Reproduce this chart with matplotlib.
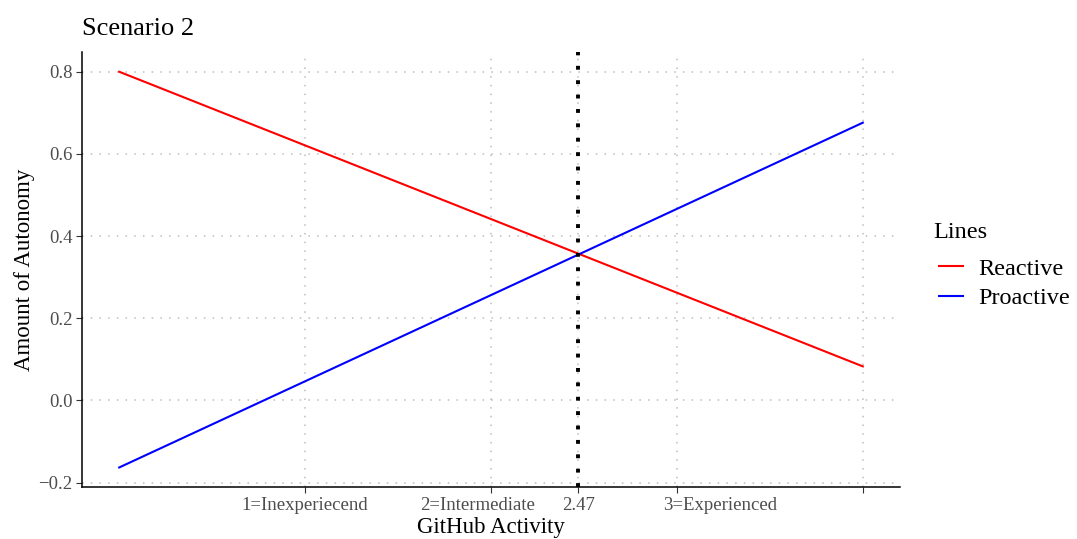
import numpy as np
import matplotlib
matplotlib.use("Agg")
import matplotlib.pyplot as plt
import matplotlib.transforms as mtransforms

# data
x_ends = [0, 4]
reactive = [0.800, 0.083]
proactive = [-0.163, 0.676]
cross_x = 2.47
tick_pos = [1, 2, 2.47, 3, 4]
tick_lab = ["1=Inexperiecend", "2=Intermediate", "2.47", "3=Experienced", ""]
y_ticks = [-0.2, 0.0, 0.2, 0.4, 0.6, 0.8]

plt.rcParams['font.family'] = ['Liberation Serif', 'DejaVu Serif']

W, H = 1077, 539
fig = plt.figure(figsize=(W / 100, H / 100), dpi=100)
ax = fig.add_axes([82/W, 52/H, (900-82)/W, (487-52)/H])

ax.set_xlim(-0.2, 4.2)
ax.set_ylim(-0.2105, 0.848)

# grid
for yv in y_ticks:
    ax.axhline(yv, color='#bdbdbd', lw=1.1, ls=(0, (1, 4.7)), zorder=0)
for xv in tick_pos:
    ax.axvline(xv, color='#bdbdbd', lw=1.1, ls=(0, (1, 4.7)), zorder=0)

ax.plot(x_ends, reactive, color='red', lw=1.5, label='Reactive')
ax.plot(x_ends, proactive, color='blue', lw=1.5, label='Proactive')
ax.axvline(cross_x, color='black', lw=2.8, ls=(0, (1, 2.7)), zorder=3)

ax.set_xticks(tick_pos)
ax.set_xticklabels(tick_lab)
ax.set_yticks(y_ticks)
ax.set_yticklabels([f"{v:.1f}".replace('-', '\u2212') for v in y_ticks])
ax.tick_params(colors='#4d4d4d', labelsize=13.5, length=4, width=0.8, pad=3)
ax.tick_params(axis='both', color='#333333')

# the reference nudges two labels sideways so they don't crowd 2.47
nudge_px = [0, -13.5, 0, 43, 0]
for lab, dx in zip(ax.get_xticklabels(), nudge_px):
    off = mtransforms.ScaledTranslation(dx / 100, 0, fig.dpi_scale_trans)
    lab.set_transform(lab.get_transform() + off)

for s in ['top', 'right']:
    ax.spines[s].set_visible(False)
for s in ['left', 'bottom']:
    ax.spines[s].set_linewidth(1.1)

ax.set_xlabel('GitHub Activity', fontsize=16.5, labelpad=2)
ax.set_ylabel('Amount of Autonomy', fontsize=16.5, labelpad=2)
ax.set_title('Scenario 2', fontsize=19, loc='left', pad=12)

# legend: title drawn as its own text so it lines up like the reference
fig.text(933/W, 1 - 232/H, 'Lines', fontsize=17.5, ha='left', va='center')
leg = ax.legend(loc='center left',
                bbox_to_anchor=(927/W, 1 - 283.5/H),
                bbox_transform=fig.transFigure, borderpad=0,
                frameon=False, fontsize=17.5,
                handlelength=0.97, handletextpad=0.65, labelspacing=0.3)

fig.savefig('out.png', dpi=100)
